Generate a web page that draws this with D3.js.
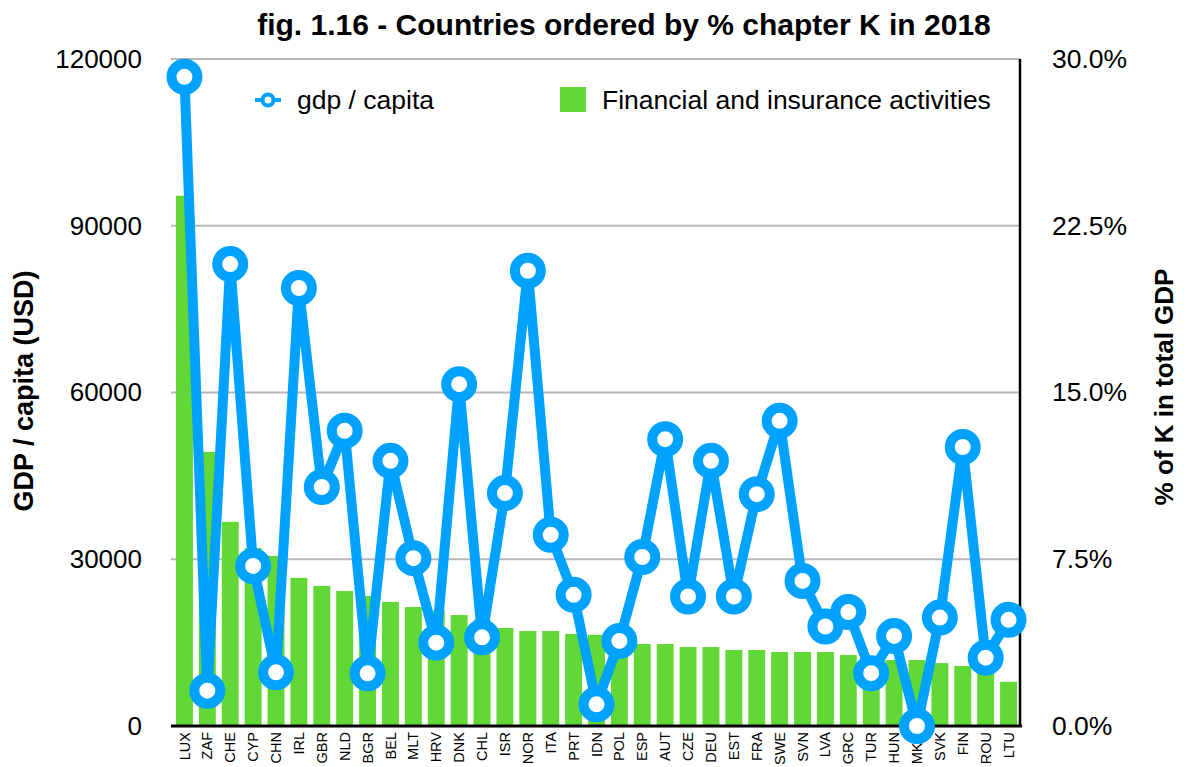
<!DOCTYPE html>
<html>
<head>
<meta charset="utf-8">
<script src="https://cdn.jsdelivr.net/npm/d3@7.9.0/dist/d3.min.js"></script>
<style>
  body { margin: 0; background: #fff; }
  text { font-family: "Liberation Sans", Arial, Helvetica, sans-serif; }
</style>
</head>
<body>
<div id="chart"></div>
<script>
const countries = ['LUX', 'ZAF', 'CHE', 'CYP', 'CHN', 'IRL', 'GBR', 'NLD', 'BGR', 'BEL',
  'MLT', 'HRV', 'DNK', 'CHL', 'ISR', 'NOR', 'ITA', 'PRT', 'IDN', 'POL',
  'ESP', 'AUT', 'CZE', 'DEU', 'EST', 'FRA', 'SWE', 'SVN', 'LVA', 'GRC',
  'TUR', 'HUN', 'MKD', 'SVK', 'FIN', 'ROU', 'LTU'];

// share of chapter K (financial and insurance activities) in total GDP, %
const kShare = [23.85, 12.33, 9.18, 8.0, 7.65, 6.66, 6.30, 6.07, 5.85, 5.58,
  5.35, 5.2, 4.99, 4.77, 4.41, 4.27, 4.27, 4.14, 4.1, 3.9,
  3.69, 3.69, 3.55, 3.55, 3.42, 3.42, 3.33, 3.33, 3.33, 3.19,
  3.05, 2.97, 2.97, 2.83, 2.70, 2.5, 1.99];

// gdp per capita, USD
const gdpCapita = [116800, 6350, 83100, 28800, 9660, 78800, 43000, 53100, 9480, 47700,
  30200, 15000, 61500, 15950, 41900, 81900, 34400, 23600, 3900, 15300,
  30400, 51600, 23300, 47700, 23300, 41700, 54900, 26100, 17900, 20500,
  9500, 16200, 0, 19500, 50200, 12300, 19100];

const gdpTicks = [0, 30000, 60000, 90000, 120000];
const pctTicks = [0, 7.5, 15, 22.5, 30];

const width = 1184;
const height = 767;
const margin = { top: 59, right: 164, bottom: 41, left: 173 };

const blue = '#00a2ff';
const green = '#61d836';

const data = countries.map((c, i) => ({ country: c, k: kShare[i], gdp: gdpCapita[i] }));

const svg = d3.select('#chart')
  .append('svg')
  .attr('width', width)
  .attr('height', height);

const x = d3.scaleBand()
  .domain(countries)
  .range([margin.left, width - margin.right])
  .paddingInner(0.26)
  .paddingOuter(0.13);

const yLeft = d3.scaleLinear()
  .domain([0, 120000])
  .range([height - margin.bottom, margin.top]);

const yRight = d3.scaleLinear()
  .domain([0, 30])
  .range([height - margin.bottom, margin.top]);

// grid
svg.append('g')
  .selectAll('line')
  .data(gdpTicks.slice(1))
  .join('line')
  .attr('x1', margin.left - 2)
  .attr('x2', width - margin.right)
  .attr('y1', d => yLeft(d))
  .attr('y2', d => yLeft(d))
  .attr('stroke', '#b8b8b8')
  .attr('stroke-width', 2);

// bars
svg.append('g')
  .selectAll('rect')
  .data(data)
  .join('rect')
  .attr('x', d => x(d.country))
  .attr('width', x.bandwidth())
  .attr('y', d => yRight(d.k))
  .attr('height', d => yRight(0) - yRight(d.k))
  .attr('fill', green);

// left axis
const leftAxis = svg.append('g')
  .attr('transform', `translate(${margin.left},0)`)
  .call(d3.axisLeft(yLeft).tickValues(gdpTicks).tickFormat(d3.format('d')).tickSize(0).tickPadding(31));
leftAxis.select('.domain').remove();
leftAxis.selectAll('text')
  .attr('font-size', 26)
  .attr('fill', '#000')
  .style('font-family', '"Liberation Sans", Arial, sans-serif');

// right axis
const rightAxis = svg.append('g')
  .attr('transform', `translate(${width - margin.right},0)`)
  .call(d3.axisRight(yRight).tickValues(pctTicks).tickFormat(d => d.toFixed(1) + '%').tickSize(0).tickPadding(32));
rightAxis.select('.domain').remove();
rightAxis.selectAll('text')
  .attr('font-size', 26.5)
  .attr('fill', '#000')
  .style('font-family', '"Liberation Sans", Arial, sans-serif');

// bottom axis
const bottomAxis = svg.append('g')
  .attr('transform', `translate(0,${height - margin.bottom})`)
  .call(d3.axisBottom(x).tickSize(0).tickPadding(0));
bottomAxis.select('.domain').remove();
bottomAxis.selectAll('text')
  .attr('font-size', 14.5)
  .attr('fill', '#000')
  .attr('transform', 'rotate(-90)')
  .attr('text-anchor', 'end')
  .attr('x', -6)
  .attr('y', 0)
  .attr('dy', '0.35em')
  .style('font-family', '"Liberation Sans", Arial, sans-serif');

svg.append('line')
  .attr('x1', margin.left - 2)
  .attr('x2', width - margin.right + 2)
  .attr('y1', yLeft(0))
  .attr('y2', yLeft(0))
  .attr('stroke', '#000')
  .attr('stroke-width', 3);

svg.append('line')
  .attr('x1', width - margin.right)
  .attr('x2', width - margin.right)
  .attr('y1', margin.top)
  .attr('y2', yLeft(0))
  .attr('stroke', '#000')
  .attr('stroke-width', 2.5);

// gdp line
const line = d3.line()
  .x(d => x(d.country) + x.bandwidth() / 2)
  .y(d => yLeft(d.gdp));

svg.append('path')
  .datum(data)
  .attr('fill', 'none')
  .attr('stroke', blue)
  .attr('stroke-width', 10)
  .attr('stroke-linejoin', 'miter')
  .attr('d', line);

svg.append('g')
  .selectAll('circle')
  .data(data)
  .join('circle')
  .attr('cx', d => x(d.country) + x.bandwidth() / 2)
  .attr('cy', d => yLeft(d.gdp))
  .attr('r', 13)
  .attr('fill', '#fff')
  .attr('stroke', blue)
  .attr('stroke-width', 10);

// title
svg.append('text')
  .attr('x', 624)
  .attr('y', 35)
  .attr('text-anchor', 'middle')
  .attr('font-size', 30)
  .attr('font-weight', 'bold')
  .text('fig. 1.16 - Countries ordered by % chapter K in 2018');

// axis titles
svg.append('text')
  .attr('transform', `translate(33,391) rotate(-90)`)
  .attr('text-anchor', 'middle')
  .attr('font-size', 27)
  .attr('font-weight', 'bold')
  .text('GDP / capita (USD)');

svg.append('text')
  .attr('transform', `translate(1173,387) rotate(-90)`)
  .attr('text-anchor', 'middle')
  .attr('font-size', 26)
  .attr('font-weight', 'bold')
  .text('% of K in total GDP');

// legend
const legend = svg.append('g');
legend.append('line')
  .attr('x1', 255).attr('x2', 281)
  .attr('y1', 100).attr('y2', 100)
  .attr('stroke', blue).attr('stroke-width', 4);
legend.append('circle')
  .attr('cx', 268).attr('cy', 100).attr('r', 5.5)
  .attr('fill', '#fff').attr('stroke', blue).attr('stroke-width', 4);
legend.append('text')
  .attr('x', 297).attr('y', 109)
  .attr('font-size', 26.5)
  .text('gdp / capita');

legend.append('rect')
  .attr('x', 560).attr('y', 87)
  .attr('width', 26).attr('height', 25)
  .attr('fill', green);
legend.append('text')
  .attr('x', 602).attr('y', 109)
  .attr('font-size', 26.5)
  .text('Financial and insurance activities');
</script>
</body>
</html>
